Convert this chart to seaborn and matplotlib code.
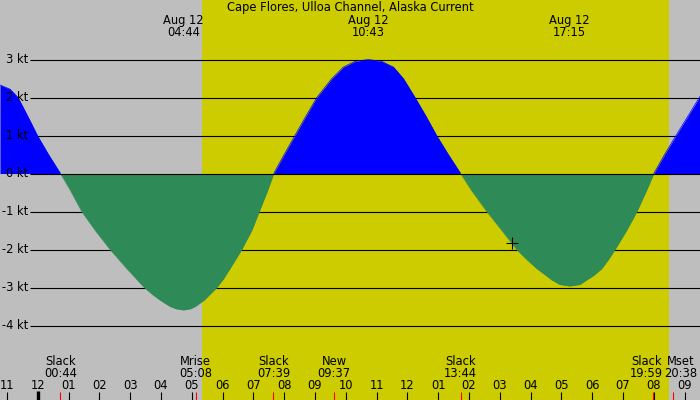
import numpy as np
import pandas as pd
import matplotlib
matplotlib.use("Agg")
import matplotlib.pyplot as plt
import seaborn as sns

# current speed (kt), time in hours from midnight Aug 12
flood0_t = [-1.225, -0.9, -0.64, -0.3, -0.01, 0.35, 0.74]
flood0_v = [2.33, 2.22, 2.0, 1.47, 1.0, 0.5, 0.0]
ebb1_t = [0.74, 1.05, 1.43, 1.86, 2.35, 2.89, 3.46, 3.72, 3.97, 4.3, 4.5, 4.73, 4.95, 5.11, 5.4, 5.81, 6.03, 6.24, 6.62, 6.95, 7.19, 7.47, 7.66]
ebb1_v = [0.0, -0.43, -1.0, -1.49, -2.0, -2.5, -3.0, -3.18, -3.33, -3.5, -3.56, -3.59, -3.56, -3.5, -3.33, -3.0, -2.77, -2.5, -2.0, -1.49, -1.0, -0.43, 0.0]
flood1_t = [7.66, 8.0, 8.35, 8.7, 9.06, 9.55, 9.92, 10.3, 10.73, 11.17, 11.55, 11.87, 12.25, 12.61, 12.95, 13.33, 13.73]
flood1_v = [0.0, 0.5, 1.0, 1.5, 2.0, 2.5, 2.8, 2.95, 3.0, 2.95, 2.8, 2.5, 2.0, 1.5, 1.0, 0.5, 0.0]
ebb2_t = [13.73, 14.07, 14.58, 15.06, 15.55, 15.9, 16.2, 16.69, 16.95, 17.28, 17.6, 17.82, 18.05, 18.31, 18.52, 18.74, 19.12, 19.45, 19.77, 20.0]
ebb2_v = [0.0, -0.43, -1.0, -1.49, -2.0, -2.28, -2.5, -2.8, -2.92, -2.96, -2.92, -2.8, -2.68, -2.5, -2.27, -2.0, -1.49, -1.0, -0.43, 0.0]
flood2_t = [20.0, 20.35, 20.72, 21.1, 21.5]
flood2_v = [0.0, 0.5, 1.0, 1.5, 2.03]

sunrise, sunset = 5.334, 20.497

peak_times = [4.733, 10.717, 17.25]
peak_labels = ["04:44", "10:43", "17:15"]

event_times = [0.733, 5.133, 7.65, 9.617, 13.733, 19.983, 20.633]
event_names = ["Slack", "Mrise", "Slack", "New", "Slack", "Slack", "Mset"]
event_labels = ["00:44", "05:08", "07:39", "09:37", "13:44", "19:59", "20:38"]
event_shift = [0, 0, 0, 0, 0, -0.22, 0.24]

hour_ticks = list(range(-1, 22))
hour_labels = ["11", "12"] + [f"{h:02d}" for h in range(1, 13)] + [f"{h:02d}" for h in range(1, 10)]

kt_levels = [3, 2, 1, 0, -1, -2, -3, -4]

GREY = "#bebebe"
YELLOW = "#cccc00"
BLUE = "#0000ff"
GREEN = "#2e8b57"

sns.set_theme(style="white")
plt.rcParams["font.family"] = ["DejaVu Sans"]
plt.rcParams["text.color"] = "black"
FS = 8.3

parts = [
    ("flood", flood0_t, flood0_v),
    ("ebb", ebb1_t, ebb1_v),
    ("flood", flood1_t, flood1_v),
    ("ebb", ebb2_t, ebb2_v),
    ("flood", flood2_t, flood2_v),
]
rows = []
for i, (kind, ts, vs) in enumerate(parts):
    for t, v in zip(ts, vs):
        rows.append({"phase": i, "kind": kind, "t": t, "v": v})
df = pd.DataFrame(rows)

fig = plt.figure(figsize=(7, 4), dpi=100)
ax = fig.add_axes([0, 0, 1, 1])
ax.set_facecolor(GREY)
ax.set_xlim(-1.225, 21.5)
ax.set_ylim(-5.96, 4.566)
ax.axvspan(sunrise, sunset, color=YELLOW, lw=0, zorder=0)

# grid lines behind the filled curve, the zero line on top of it
ax.hlines([lv for lv in kt_levels if lv != 0], -0.25, 21.5, color="black", lw=0.8, zorder=1)
ax.hlines([0], -0.25, 21.5, color="black", lw=0.8, zorder=4)
for lv in kt_levels:
    ax.text(-0.3, lv, f"{lv} kt", ha="right", va="center", fontsize=FS, zorder=5)

for i, (kind, ts, vs) in enumerate(parts):
    ax.fill_between(ts, vs, 0, color=BLUE if kind == "flood" else GREEN, lw=0, zorder=2)
sns.lineplot(data=df, x="t", y="v", hue="kind", units="phase", estimator=None,
             palette={"flood": BLUE, "ebb": GREEN}, lw=0.5, legend=False, ax=ax, zorder=3)

ax.plot([15.4], [-1.83], marker="+", color="black", ms=9, mew=0.8, zorder=4)

# header
ax.text(0.5, 1 - 7.5 / 400, "Cape Flores, Ulloa Channel, Alaska Current", transform=ax.transAxes,
        ha="center", va="center", fontsize=FS)
ytop = lambda px: 4.566 - px / 38
for t, lab in zip(peak_times, peak_labels):
    ax.text(t, ytop(20), "Aug 12", ha="center", va="center", fontsize=FS)
    ax.text(t, ytop(32), lab, ha="center", va="center", fontsize=FS)

# bottom axis: hours, ticks and events
ax.vlines(hour_ticks, ytop(392), ytop(400), color="black", lw=0.8, zorder=4)
ax.vlines([0], ytop(391), ytop(400), color="black", lw=2.4, zorder=4)
for h, lab in zip(hour_ticks, hour_labels):
    ax.text(h, ytop(385.5), lab, ha="center", va="center", fontsize=FS)
ax.vlines(event_times, ytop(392), ytop(400), color="red", lw=0.8, zorder=4)
for t, nm, lab, dx in zip(event_times, event_names, event_labels, event_shift):
    ax.text(t + dx, ytop(361.5), nm, ha="center", va="center", fontsize=FS)
    ax.text(t + dx, ytop(373.5), lab, ha="center", va="center", fontsize=FS)

ax.set_xticks([])
ax.set_yticks([])
for s in ax.spines.values():
    s.set_visible(False)

fig.savefig("out.png", dpi=100)
